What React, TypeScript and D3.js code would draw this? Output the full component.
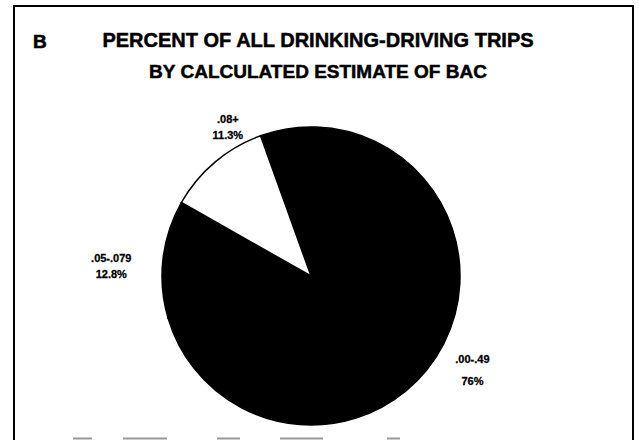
import React, { useEffect, useRef } from "react";
import * as d3 from "d3";

// BAC categories, share of all drinking-driving trips (%)
const categories = [".00-.49", ".05-.079", ".08+"];
const percents = [76, 12.8, 11.3];
const percentLabels = ["76%", "12.8%", "11.3%"];
const sliceFill = ["#000", "#000", "#fff"];

const titleLines = [
  "PERCENT OF ALL DRINKING-DRIVING TRIPS",
  "BY CALCULATED ESTIMATE OF BAC",
];

const App = () => {
  const ref = useRef<SVGSVGElement | null>(null);

  useEffect(() => {
    var width = 639,
      height = 440;
    var cx = 311,
      cy = 276,
      radius = 149;

    var svg = d3.select(ref.current);
    svg.selectAll("*").remove();

    // frame round the panel
    svg
      .append("path")
      .attr("d", "M14," + height + "V6H633V" + height)
      .attr("fill", "none")
      .attr("stroke", "#000")
      .attr("stroke-width", 2);

    // faint tops of the next panel's boxes, cut off at the bottom
    var stubs = [
      [73, 92],
      [123, 167],
      [217, 240],
      [280, 323],
      [387, 400],
    ];
    svg
      .selectAll(".stub")
      .data(stubs)
      .enter()
      .append("line")
      .attr("x1", (d) => d[0])
      .attr("x2", (d) => d[1])
      .attr("y1", 438.5)
      .attr("y2", 438.5)
      .attr("stroke", "#999")
      .attr("stroke-width", 2);

    var font = "'Liberation Sans', Arial, sans-serif";

    svg
      .append("text")
      .attr("x", 33)
      .attr("y", 48)
      .attr("font-family", font)
      .attr("font-weight", "bold")
      .attr("font-size", 19)
      .attr("stroke", "#000")
      .attr("stroke-width", 0.6)
      .text("B");

    var titleSize = [20, 19];
    svg
      .selectAll(".title")
      .data(titleLines)
      .enter()
      .append("text")
      .attr("class", "title")
      .attr("x", 318)
      .attr("y", (d, i) => 47 + i * 31)
      .attr("text-anchor", "middle")
      .attr("font-family", font)
      .attr("font-weight", "bold")
      .attr("font-size", (d, i) => titleSize[i])
      .attr("stroke", "#000")
      .attr("stroke-width", 0.5)
      .text((d) => d);

    var pie = d3
      .pie<number>()
      .sort(null)
      .startAngle(-0.3456)
      .endAngle(-0.3456 + 2 * Math.PI);

    var arc = d3
      .arc<d3.PieArcDatum<number>>()
      .innerRadius(0)
      .outerRadius(radius);

    var g = svg
      .append("g")
      .attr("transform", "translate(" + cx + "," + cy + ")");

    var arcs = pie(percents);

    g.selectAll(".slice")
      .data(arcs)
      .enter()
      .append("path")
      .attr("class", "slice")
      .attr("d", arc)
      .attr("fill", (d, i) => sliceFill[i])
      .attr("stroke", "#000")
      .attr("stroke-width", 1.5);

    // label anchors: angle from 12 o'clock and distance from the centre
    var labelRadius = [187, 200, 171];
    var labelAngle = [2.1, -1.52, -0.508];
    var lineGap = [22, 16, 16];

    var lab = g
      .selectAll(".lab")
      .data(arcs)
      .enter()
      .append("g")
      .attr("class", "lab")
      .attr("transform", function (d, i) {
        var a = labelAngle[i];
        var r = labelRadius[i];
        return (
          "translate(" + Math.sin(a) * r + "," + -Math.cos(a) * r + ")"
        );
      })
      .attr("font-family", font)
      .attr("font-weight", "bold")
      .attr("font-size", 11)
      .attr("stroke", "#000")
      .attr("stroke-width", 0.3)
      .attr("text-anchor", "middle");

    lab
      .append("text")
      .attr("y", (d, i) => -lineGap[i] / 2 + 4)
      .text((d, i) => categories[i]);
    lab
      .append("text")
      .attr("y", (d, i) => lineGap[i] / 2 + 4)
      .text((d, i) => percentLabels[i]);
  }, []);

  return (
    <svg
      ref={ref}
      width={639}
      height={440}
      style={{ position: "absolute", left: 0, top: 0, background: "#fff" }}
    />
  );
};

export default App;
